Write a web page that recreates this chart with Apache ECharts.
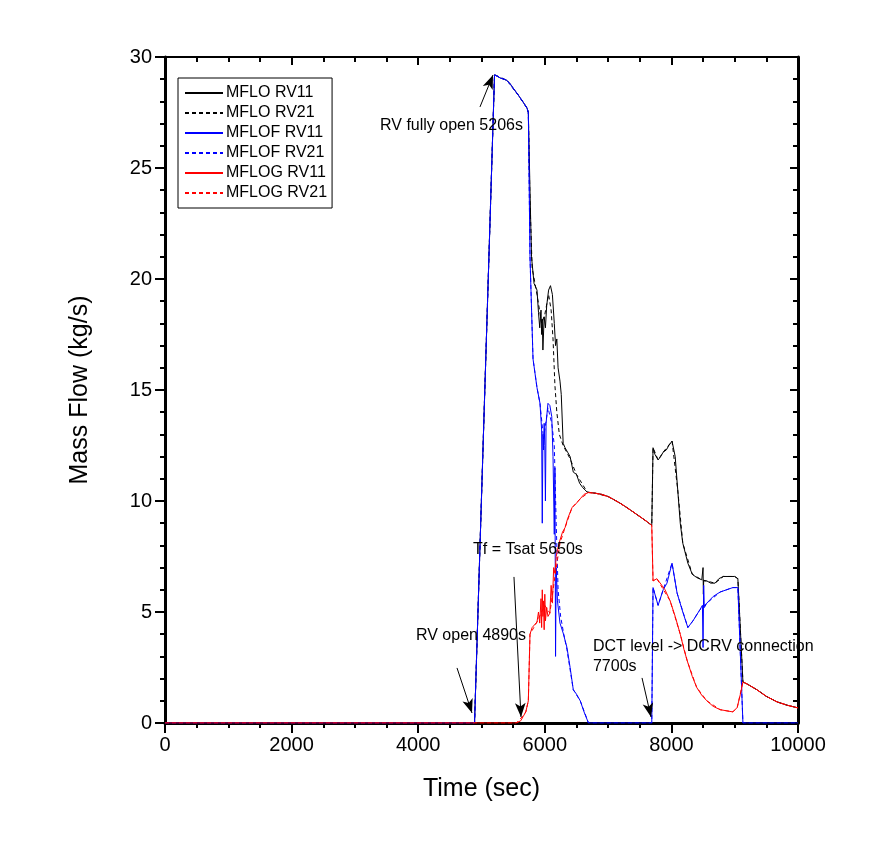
<!DOCTYPE html>
<html>
<head>
<meta charset="utf-8">
<script src="https://cdn.jsdelivr.net/npm/echarts@6/dist/echarts.min.js"></script>
<style>
html,body{margin:0;padding:0;background:#fff;}
#chart{width:876px;height:867px;}
</style>
</head>
<body>
<div id="chart"></div>
<script>
// ---------- data ----------
var xTicks = [0, 2000, 4000, 6000, 8000, 10000];
var yTicks = [0, 5, 10, 15, 20, 25, 30];

var mfloRv11T = [0,4890,5206,5300,5400,5450,5500,5577,5650,5719,5740,5766,5790,5830,5877,5900,5920,5940,5950,5960,5970,5990,6010,6030,6060,6090,6120,6150,6170,6190,6210,6240,6260,6290,6320,6360,6400,6450,6500,6550,6600,6670,6800,6900,7000,7100,7190,7300,7400,7500,7600,7690,7710,7740,7790,7830,7870,7920,7960,8010,8030,8060,8100,8140,8180,8260,8330,8400,8480,8490,8500,8505,8510,8560,8620,8690,8750,8820,8900,9000,9050,9130,9200,9350,9500,9670,9830,10000];
var mfloRv11V = [0,0,29.2,29.05,28.95,28.8,28.6,28.3,28.0,27.7,27.5,24.0,21.0,19.8,19.5,18.5,17.8,18.6,17.5,18.2,16.8,18.3,17.8,18.8,19.5,19.7,19.3,18.0,17.0,17.3,16.0,15.4,14.8,12.6,12.4,12.2,12.0,11.3,11.2,10.8,10.6,10.4,10.35,10.3,10.2,10.05,9.9,9.7,9.5,9.3,9.1,8.9,12.4,12.1,11.85,12.0,12.2,12.3,12.5,12.7,12.65,12.0,10.5,9.0,8.1,7.2,6.7,6.55,6.45,6.5,7.0,5.8,6.4,6.4,6.3,6.3,6.5,6.6,6.6,6.6,6.5,1.85,1.75,1.5,1.2,0.95,0.8,0.68];

var mfloRv21T = [0,4890,5206,5400,5577,5719,5740,5766,5800,5877,5950,6000,6060,6100,6130,6160,6190,6230,6290,6400,6500,6670,6800,7000,7190,7400,7600,7690,7710,7790,7870,8010,8030,8100,8180,8330,8480,8690,8820,9000,9050,9130,9200,9350,9500,9670,9830,10000];
var mfloRv21V = [0,0,29.2,28.95,28.3,27.7,27.5,23.5,20.5,19.3,18.0,18.4,19.3,18.6,17.3,15.2,14.0,13.0,12.5,11.9,11.2,10.4,10.35,10.2,9.9,9.5,9.1,8.9,12.4,11.85,12.2,12.7,12.65,10.5,8.1,6.7,6.45,6.3,6.6,6.6,6.5,1.85,1.75,1.5,1.2,0.95,0.8,0.68];

var mflofRv11T = [0,4890,5206,5300,5400,5450,5500,5577,5650,5719,5740,5766,5814,5877,5924,5950,5960,5970,5980,5990,6000,6010,6020,6050,6080,6110,6130,6150,6160,6170,6180,6200,6240,6290,6350,6400,6450,6500,6560,6620,6690,7690,7710,7790,7870,7930,8010,8030,8090,8180,8260,8340,8450,8490,8500,8510,8520,8560,8660,8770,8870,8970,9050,9130,10000];
var mflofRv11V = [0,0,29.2,29.05,28.95,28.8,28.6,28.3,28.0,27.7,27.5,21.0,16.4,15.1,14.4,13.2,9.0,13.0,12.3,13.5,12.5,10.0,13.5,14.4,14.3,13.8,12.0,8.5,11.5,3.0,7.0,5.5,4.5,4.05,3.4,2.5,1.5,1.3,1.0,0.5,0,0,6.1,5.3,6.0,6.3,7.2,7.2,5.85,5.0,4.3,4.6,5.1,5.3,3.4,6.2,5.2,5.4,5.7,5.9,6.0,6.1,6.1,0,0];

var mflofRv21T = [0,4890,5206,5400,5577,5719,5740,5766,5814,5877,5924,5980,6050,6110,6150,6180,6210,6250,6300,6350,6400,6450,6560,6690,7690,7710,7790,7870,8010,8030,8090,8260,8340,8450,8560,8770,8970,9050,9130,10000];
var mflofRv21V = [0,0,29.2,28.95,28.3,27.7,27.5,21.0,16.4,15.1,14.4,12.8,14.2,13.5,12.5,9.0,6.0,4.8,4.0,3.3,2.4,1.5,1.0,0,0,6.1,5.3,6.0,7.2,7.2,5.85,4.3,4.6,5.1,5.4,5.9,6.1,6.1,0,0];

var mflogRv11T = [0,5550,5620,5660,5700,5740,5766,5800,5877,5900,5920,5940,5950,5960,5970,5980,5990,6000,6010,6030,6050,6080,6100,6120,6140,6160,6180,6200,6240,6280,6320,6360,6430,6500,6560,6620,6690,6800,6900,7000,7100,7190,7300,7400,7500,7600,7690,7710,7770,7850,7900,7980,8060,8140,8200,8250,8330,8400,8480,8560,8660,8770,8870,8970,9040,9090,9130,9200,9350,9500,9670,9830,10000];
var mflogRv11V = [0,0,0.1,0.3,0.5,1.0,4.0,4.3,4.55,5.0,4.5,5.6,4.3,6.0,4.8,5.5,4.2,5.8,4.6,5.2,4.8,4.95,6.2,5.4,7.0,6.75,7.5,7.8,8.24,8.6,8.8,9.2,9.7,9.9,10.1,10.3,10.38,10.35,10.3,10.2,10.05,9.9,9.7,9.5,9.3,9.1,8.9,6.4,6.5,6.2,6.0,5.5,4.8,4.0,3.3,2.8,2.1,1.6,1.25,1.0,0.75,0.6,0.55,0.5,0.7,1.3,1.85,1.75,1.5,1.2,0.95,0.8,0.68];

var mflogRv21T = [0,5550,5650,5700,5740,5766,5877,5950,6000,6080,6160,6240,6320,6430,6560,6690,6800,7000,7190,7400,7600,7690,7710,7770,7980,8140,8250,8400,8560,8770,8970,9040,9130,9200,9350,9500,9670,9830,10000];
var mflogRv21V = [0,0,0.3,0.5,1.0,4.0,4.55,5.0,5.3,4.95,6.6,8.1,8.8,9.7,10.1,10.38,10.35,10.2,9.9,9.5,9.1,8.9,6.4,6.5,5.5,4.0,2.8,1.6,1.0,0.6,0.5,0.7,1.85,1.75,1.5,1.2,0.95,0.8,0.68];

// annotations (data coordinates)
var noteTexts = ['RV fully open 5206s', 'RV open 4890s', 'Tf = Tsat 5650s', 'DCT level -> DCRV connection\n7700s'];
var noteX = [3397, 3965, 4866, 6761];
var noteY = [26.9, 3.92, 7.8, 2.97];
var arrowFromX = [4976, 4613, 5513, 7536];
var arrowFromY = [27.75, 2.48, 6.58, 2.03];
var arrowToX = [5182, 4850, 5624, 7678];
var arrowToY = [29.19, 0.45, 0.27, 0.27];

// ---------- build ----------
function zip(t, v) { return t.map(function (x, i) { return [x, v[i]]; }); }
var FONT = '"Liberation Sans", Arial, sans-serif';

function lineSeries(name, t, v, color, dashed, z) {
  return {
    type: 'line', name: name, data: zip(t, v),
    xAxisIndex: 0, yAxisIndex: 0, z: z,
    symbol: 'none', showSymbol: false, animation: false,
    lineStyle: { color: color, width: 1, type: dashed ? [4, 3] : 'solid' },
    itemStyle: { color: color }
  };
}

var series = [
  lineSeries('MFLO RV11', mfloRv11T, mfloRv11V, '#000000', false, 2),
  lineSeries('MFLO RV21', mfloRv21T, mfloRv21V, '#000000', true, 2),
  lineSeries('MFLOF RV11', mflofRv11T, mflofRv11V, '#0000ff', false, 3),
  lineSeries('MFLOF RV21', mflofRv21T, mflofRv21V, '#0000ff', true, 3),
  lineSeries('MFLOG RV11', mflogRv11T, mflogRv11V, '#ff0000', false, 4),
  lineSeries('MFLOG RV21', mflogRv21T, mflogRv21V, '#ff0000', true, 4)
];

var arrows = arrowFromX.map(function (x, i) {
  return [{ coord: [x, arrowFromY[i]] }, { coord: [arrowToX[i], arrowToY[i]] }];
});

series.push({
  type: 'scatter', name: 'notes', xAxisIndex: 0, yAxisIndex: 0,
  symbolSize: 0, animation: false, silent: true, z: 10,
  itemStyle: { opacity: 1, color: '#000' },
  data: noteX.map(function (x, i) {
    return { value: [x, noteY[i]], label: { show: true, formatter: noteTexts[i], color: '#000' } };
  }),
  label: {
    show: true, position: 'right', distance: 0, align: 'left',
    color: '#000', fontFamily: FONT, fontSize: 16, lineHeight: 20
  },
  markLine: {
    silent: true, animation: false,
    symbol: ['none', 'arrow'], symbolSize: [8, 14],
    lineStyle: { color: '#000', width: 1, type: 'solid', opacity: 1 },
    label: { show: false },
    data: arrows
  }
});

function plain(v) { return String(v); }

var chart = echarts.init(document.getElementById('chart'), null, { renderer: 'canvas' });
chart.setOption({
  backgroundColor: '#ffffff',
  animation: false,
  grid: { left: 165, top: 57, right: 78, bottom: 144, containLabel: false },
  legend: {
    data: ['MFLO RV11', 'MFLO RV21', 'MFLOF RV11', 'MFLOF RV21', 'MFLOG RV11', 'MFLOG RV21'],
    orient: 'vertical', left: 178, top: 78,
    itemWidth: 38, itemHeight: 12, itemGap: 4,
    padding: [7, 5, 7, 6],
    borderColor: '#000', borderWidth: 1,
    itemStyle: { opacity: 0, borderWidth: 0 },
    textStyle: { color: '#000', fontFamily: FONT, fontSize: 16, padding: [0, 0, 0, -2] },
    selectedMode: false
  },
  xAxis: [{
    type: 'value', position: 'bottom',
    min: xTicks[0], max: xTicks[xTicks.length - 1], interval: xTicks[1] - xTicks[0],
    name: 'Time (sec)', nameLocation: 'middle', nameGap: 54,
    nameTextStyle: { color: '#000', fontFamily: FONT, fontSize: 25 },
    axisLine: { show: true, onZero: false, lineStyle: { color: '#000', width: 3 } },
    axisTick: { show: true, inside: false, length: 10, lineStyle: { color: '#000', width: 2 } },
    minorTick: { show: true, splitNumber: 4, length: 5, lineStyle: { color: '#000', width: 2 } },
    axisLabel: { color: '#000', fontFamily: FONT, fontSize: 20, margin: 12, formatter: plain },
    splitLine: { show: false }
  }, {
    type: 'value', position: 'top',
    min: xTicks[0], max: xTicks[xTicks.length - 1], interval: xTicks[1] - xTicks[0],
    axisLine: { show: true, onZero: false, lineStyle: { color: '#000', width: 2 } },
    axisTick: { show: true, inside: true, length: 8, lineStyle: { color: '#000', width: 2 } },
    minorTick: { show: true, splitNumber: 4, length: 5, lineStyle: { color: '#000', width: 2 } },
    axisLabel: { show: false },
    splitLine: { show: false }
  }],
  yAxis: [{
    type: 'value', position: 'left',
    min: yTicks[0], max: yTicks[yTicks.length - 1], interval: yTicks[1] - yTicks[0],
    name: 'Mass Flow (kg/s)', nameLocation: 'middle', nameGap: 72,
    nameTextStyle: { color: '#000', fontFamily: FONT, fontSize: 25 },
    axisLine: { show: true, onZero: false, lineStyle: { color: '#000', width: 3 } },
    axisTick: { show: true, inside: false, length: 10, lineStyle: { color: '#000', width: 2 } },
    minorTick: { show: true, splitNumber: 5, length: 5, lineStyle: { color: '#000', width: 2 } },
    axisLabel: { color: '#000', fontFamily: FONT, fontSize: 20, margin: 13, formatter: plain },
    splitLine: { show: false }
  }, {
    type: 'value', position: 'right',
    min: yTicks[0], max: yTicks[yTicks.length - 1], interval: yTicks[1] - yTicks[0],
    axisLine: { show: true, onZero: false, lineStyle: { color: '#000', width: 3 } },
    axisTick: { show: true, inside: true, length: 8, lineStyle: { color: '#000', width: 2 } },
    minorTick: { show: true, splitNumber: 5, length: 5, lineStyle: { color: '#000', width: 2 } },
    axisLabel: { show: false },
    splitLine: { show: false }
  }],
  series: series
});
</script>
</body>
</html>
